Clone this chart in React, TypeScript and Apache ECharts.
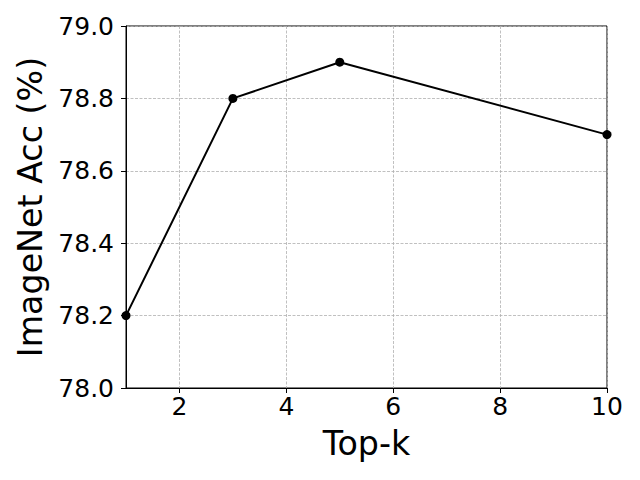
import React, { useEffect, useRef } from "react";
import * as echarts from "echarts";

const topK = [1, 3, 5, 10];
const acc = [78.2, 78.8, 78.9, 78.7];
const xTicks = [2, 4, 6, 8, 10];

export default function App() {
  const ref = useRef<HTMLDivElement>(null);
  useEffect(() => {
    const chart = echarts.init(ref.current!, null, { renderer: "svg" });
    const font = "DejaVu Sans";
    chart.setOption({
      animation: false,
      grid: {
        left: 126,
        right: 33,
        top: 26,
        bottom: 92,
        show: true,
        borderColor: "#000",
        borderWidth: 1,
        backgroundColor: "transparent",
      },
      xAxis: {
        type: "value",
        min: 1,
        max: 10,
        name: "Top-k",
        nameLocation: "middle",
        nameGap: 39,
        nameTextStyle: { fontFamily: font, fontSize: 33.3, color: "#000" },
        axisLine: { show: true, lineStyle: { color: "#000" } },
        axisTick: {
          show: true,
          inside: false,
          length: 5,
          customValues: xTicks,
          lineStyle: { color: "#000" },
        },
        axisLabel: {
          customValues: xTicks,
          fontFamily: font,
          fontSize: 25,
          color: "#000",
          margin: 6,
        },
        splitLine: {
          show: true,
          lineStyle: { color: "#b0b0b0", type: [3, 1.5], width: 0.8 },
        },
      },
      yAxis: {
        type: "value",
        min: 78,
        max: 79,
        interval: 0.2,
        name: "ImageNet Acc (%)",
        nameLocation: "middle",
        nameGap: 78,
        nameTextStyle: { fontFamily: font, fontSize: 33.3, color: "#000" },
        axisLine: { show: true, lineStyle: { color: "#000" } },
        axisTick: { show: true, inside: false, length: 5, lineStyle: { color: "#000" } },
        axisLabel: {
          fontFamily: font,
          fontSize: 25,
          color: "#000",
          margin: 12,
          formatter: (v: number) => v.toFixed(1),
        },
        splitLine: {
          show: true,
          lineStyle: { color: "#b0b0b0", type: [3, 1.5], width: 0.8 },
        },
      },
      series: [
        {
          type: "line",
          data: topK.map((k, i) => [k, acc[i]]),
          symbol: "circle",
          symbolSize: 9,
          itemStyle: { color: "#000" },
          lineStyle: { color: "#000", width: 2 },
          clip: false,
        },
      ],
    });
    return () => chart.dispose();
  }, []);
  return <div ref={ref} style={{ width: 640, height: 480, position: "absolute", left: 0, top: 0 }} />;
}
